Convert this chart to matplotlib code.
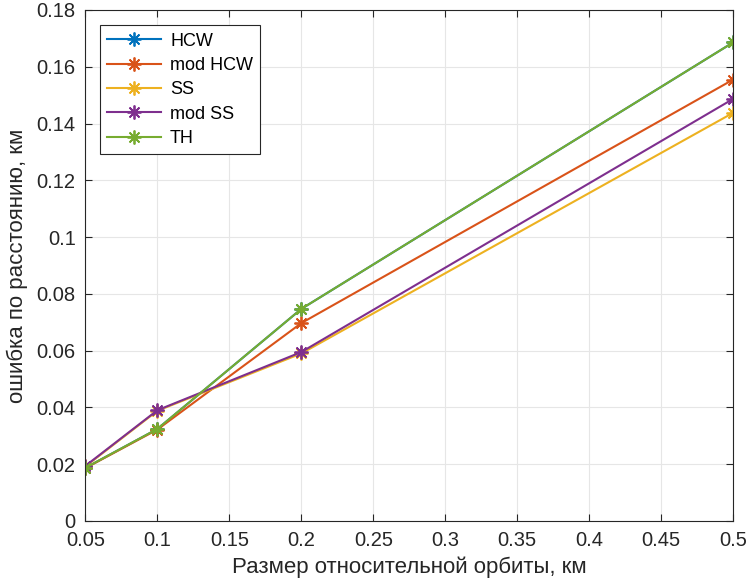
import matplotlib
matplotlib.use("Agg")
from matplotlib import pyplot as plt

plt.rcParams['font.family'] = ['Liberation Sans', 'DejaVu Sans']

x = [0.05, 0.1, 0.2, 0.5]
hcw = [0.0187, 0.0324, 0.0747, 0.1686]
mod_hcw = [0.0186, 0.0322, 0.0697, 0.1555]
ss = [0.0192, 0.0388, 0.0590, 0.1438]
mod_ss = [0.0194, 0.0390, 0.0595, 0.1487]
th = [0.0187, 0.0324, 0.0747, 0.1686]

names = ["HCW", "mod HCW", "SS", "mod SS", "TH"]
series = [hcw, mod_hcw, ss, mod_ss, th]
colors = ["#0072BD", "#D95319", "#EDB120", "#7E2F8E", "#77AC30"]

fig = plt.figure(figsize=(7.49, 5.86), dpi=100)
ax = fig.add_axes([0.114, 0.111, 0.865, 0.872])

for name, y, c in zip(names, series, colors):
    ax.plot(x, y, color=c, marker=(8, 2, 0), markersize=10, markeredgewidth=1.3,
            linewidth=1.5, label=name)

ax.set_xlim(0.05, 0.5)
ax.set_ylim(0, 0.18)
ax.set_xticks([0.05, 0.1, 0.15, 0.2, 0.25, 0.3, 0.35, 0.4, 0.45, 0.5])
ax.set_xticklabels(["0.05", "0.1", "0.15", "0.2", "0.25", "0.3", "0.35", "0.4", "0.45", "0.5"])
ax.set_yticks([0, 0.02, 0.04, 0.06, 0.08, 0.1, 0.12, 0.14, 0.16, 0.18])
ax.set_yticklabels(["0", "0.02", "0.04", "0.06", "0.08", "0.1", "0.12", "0.14", "0.16", "0.18"])
ax.grid(True, color="#e6e6e6", linewidth=0.8)
ax.set_axisbelow(True)
ax.tick_params(direction="in", labelsize=14.5, colors="#262626", top=True, right=True,
               length=5, pad=7)
for s in ax.spines.values():
    s.set_color("#262626")
    s.set_linewidth(0.8)

ax.set_xlabel("Размер относительной орбиты, км", fontsize=16, color="#262626", labelpad=5)
ax.set_ylabel("ошибка по расстоянию, км", fontsize=16, color="#262626", labelpad=6)

leg = ax.legend(loc="upper left", bbox_to_anchor=(0.022, 0.970), fontsize=13, fancybox=False,
                edgecolor="#262626", framealpha=1, handlelength=3.0, handletextpad=0.5,
                labelspacing=0.41, borderaxespad=0)
leg.get_frame().set_linewidth(0.8)

fig.savefig("out.png", dpi=100)
